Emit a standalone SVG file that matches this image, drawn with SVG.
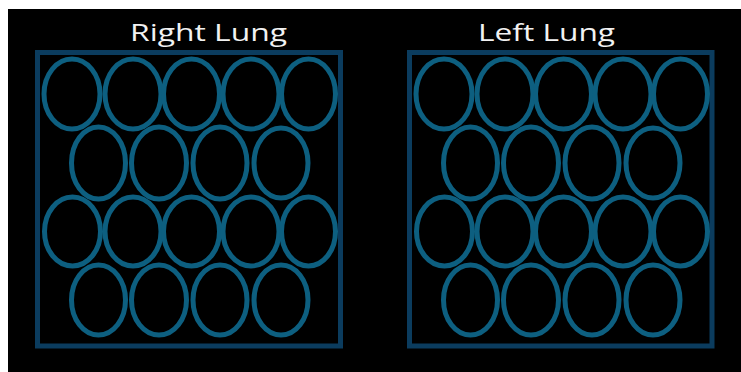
<svg xmlns="http://www.w3.org/2000/svg" width="741" height="372" viewBox="0 0 741 372">
<style>
.frame{fill:none;stroke:#0b3c5e;stroke-width:5}
.alv{fill:none;stroke:#0d5f80;stroke-width:5}
.title{font-family:"Open Sans","DejaVu Sans",sans-serif;font-size:24px;fill:#f2f2f2;text-anchor:middle}
</style>
<defs>
<g id="alveoli">
<ellipse class="alv" cx="72" cy="94" rx="28" ry="35"/>
<ellipse class="alv" cx="133" cy="94" rx="28" ry="35"/>
<ellipse class="alv" cx="191.5" cy="94" rx="28" ry="35"/>
<ellipse class="alv" cx="251" cy="94" rx="28" ry="35"/>
<ellipse class="alv" cx="308.5" cy="94" rx="27" ry="35"/>
<ellipse class="alv" cx="98.5" cy="163" rx="27" ry="36"/>
<ellipse class="alv" cx="159" cy="163" rx="27.5" ry="36"/>
<ellipse class="alv" cx="220" cy="163" rx="27" ry="36"/>
<ellipse class="alv" cx="281" cy="163" rx="27" ry="35"/>
<ellipse class="alv" cx="72.5" cy="231.5" rx="28" ry="34.5"/>
<ellipse class="alv" cx="133" cy="231.5" rx="28" ry="34.5"/>
<ellipse class="alv" cx="191.5" cy="231.5" rx="28" ry="34.5"/>
<ellipse class="alv" cx="251" cy="231.5" rx="28" ry="34.5"/>
<ellipse class="alv" cx="308.5" cy="231.5" rx="27" ry="34.5"/>
<ellipse class="alv" cx="98.5" cy="300" rx="27" ry="35"/>
<ellipse class="alv" cx="159" cy="300" rx="27.5" ry="35"/>
<ellipse class="alv" cx="220" cy="300" rx="27" ry="35"/>
<ellipse class="alv" cx="281" cy="300" rx="27" ry="35"/>
</g>
</defs>
<rect width="741" height="372" fill="#ffffff"/>
<rect x="8" y="9" width="733" height="363" fill="#000000"/>
<g id="right-lung">
<text class="title" x="208.5" y="41" textLength="157" lengthAdjust="spacingAndGlyphs">Right Lung</text>
<rect class="frame" x="37.5" y="52.5" width="303" height="293.5"/>
<use href="#alveoli"/>
</g>
<g id="left-lung">
<text class="title" x="546.5" y="41" textLength="137" lengthAdjust="spacingAndGlyphs">Left Lung</text>
<rect class="frame" x="409.5" y="52.5" width="302.5" height="293.5"/>
<use href="#alveoli" transform="translate(372 0)"/>
</g>
<g id="connectors"/>
</svg>
